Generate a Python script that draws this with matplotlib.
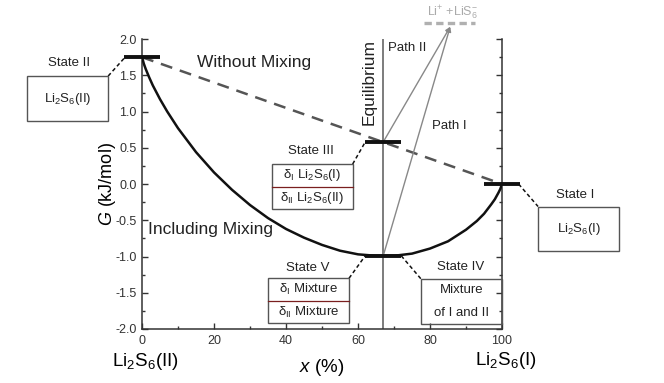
import matplotlib
matplotlib.use("Agg")
import matplotlib.pyplot as plt
import matplotlib.ticker as mticker
from matplotlib.patches import Rectangle

plt.rcParams["font.family"] = "Liberation Sans"
plt.rcParams["mathtext.fontset"] = "custom"
plt.rcParams["mathtext.rm"] = "Liberation Sans"
plt.rcParams["mathtext.it"] = "Liberation Sans:italic"
plt.rcParams["axes.unicode_minus"] = False

# ── data ─────────────────────────────────────────────────────────────────────
x_pct = [0, 0.5, 1, 2, 3, 5, 7, 10, 15, 20, 25, 30, 35, 40, 45, 50, 55, 60,
         65, 67, 70, 75, 80, 85, 90, 93, 95, 97, 98, 99, 99.5, 100]
g_mix = [1.75, 1.66, 1.59, 1.47, 1.36, 1.17, 1.00, 0.77, 0.44, 0.16, -0.08,
         -0.29, -0.47, -0.62, -0.74, -0.84, -0.92, -0.97, -0.99, -0.99, -0.99,
         -0.96, -0.89, -0.79, -0.63, -0.51, -0.41, -0.28, -0.21, -0.12, -0.07, 0.0]

x_ends = [0, 100]
g_nomix = [1.75, 0.0]

x_eq = 67
state_x = [0, 67, 67, 100]
state_g = [1.75, 0.58, -0.99, 0.0]

ion_x = [78.3, 92.5]
ion_g = 2.22
arrow_tip = (85.6, 2.17)

# ── figure ────────────────────────────────────────────────────────────────────
fig = plt.figure(figsize=(6.64, 3.83), dpi=100)
ax = fig.add_axes([0.2139, 0.141, 0.5422, 0.757])
ax.set_xlim(0, 100)
ax.set_ylim(-2, 2)

ax.axvline(x_eq, color="#666666", lw=1.2, zorder=1)
ax.plot(x_ends, g_nomix, color="#555555", lw=1.8, dashes=(4.8, 3.2), zorder=2)
ax.plot(x_pct, g_mix, color="#111111", lw=1.8, zorder=3)

for sx, sg in zip(state_x, state_g):
    ax.plot([sx - 5, sx + 5], [sg, sg], color="#111111", lw=2.8,
            solid_capstyle="butt", clip_on=False, zorder=4)

# paths to the dissociated state
for sg in state_g[1:3]:
    ax.annotate("", xy=arrow_tip, xytext=(x_eq, sg), annotation_clip=False,
                arrowprops=dict(arrowstyle="-|>", color="#888888", lw=1.0,
                                mutation_scale=7, shrinkA=0, shrinkB=0))
ax.plot(ion_x, [ion_g, ion_g], color="#b0b0b0", lw=2.4, dashes=(2.2, 1.3),
        clip_on=False)
ax.text(86.1, 2.37, r"Li$^{+}$ +LiS$_{6}^{-}$", color="#aaaaaa", fontsize=9,
        ha="center", va="center", clip_on=False)


def state_box(x0, y0, lines, title, tx, ty, divider=False):
    w, h = 22.5, 0.62
    ax.add_patch(Rectangle((x0, y0), w, h, fill=False, ec="#555555", lw=1.0,
                           clip_on=False, zorder=5))
    if divider:
        ax.plot([x0, x0 + w], [y0 + h / 2] * 2, color="#7a1f1f", lw=0.9,
                clip_on=False, zorder=5)
    if len(lines) == 1:
        ys = [y0 + h / 2]
    else:
        ys = [y0 + 3 * h / 4, y0 + h / 4]
    for s, yy in zip(lines, ys):
        ax.text(x0 + w / 2, yy, s, fontsize=9.5, ha="center", va="center",
                color="#222222")
    ax.text(tx, ty, title, fontsize=9.5, ha="center", va="center",
            color="#222222")


def connector(p, q):
    ax.plot([p[0], q[0]], [p[1], q[1]], color="#111111", lw=1.1,
            ls=(0, (2.5, 1.8)), clip_on=False)


state_box(-31.9, 0.87, [r"Li$_2$S$_6$(II)"], "State II", -20.3, 1.67)
connector((-9.4, 1.49), (-4.7, 1.75))
state_box(110.0, -0.93, [r"Li$_2$S$_6$(I)"], "State I", 120.3, -0.15)
connector((104.6, 0.0), (110.0, -0.31))
state_box(36.0, -0.345, [r"δ$_{\rm I}$ Li$_2$S$_6$(I)", r"δ$_{\rm II}$ Li$_2$S$_6$(II)"],
          "State III", 46.9, 0.455, divider=True)
connector((58.5, 0.275), (62.0, 0.58))
state_box(35.0, -1.92, [r"δ$_{\rm I}$ Mixture", r"δ$_{\rm II}$ Mixture"],
          "State V", 46.1, -1.16, divider=True)
connector((57.5, -1.30), (62.0, -0.99))
state_box(77.5, -1.93, ["Mixture", "of I and II"], "State IV", 88.6, -1.145)
connector((72.0, -0.99), (77.5, -1.31))

ax.text(15.3, 1.68, "Without Mixing", fontsize=12.5, ha="left", va="center",
        color="#222222")
ax.text(1.7, -0.63, "Including Mixing", fontsize=12.5, ha="left", va="center",
        color="#222222")
ax.text(63.0, 1.41, "Equilibrium", fontsize=12.5, rotation=90, ha="center",
        va="center", color="#222222")
ax.text(68.3, 1.88, "Path II", fontsize=9.5, ha="left", va="center",
        color="#222222")
ax.text(80.6, 0.80, "Path I", fontsize=9.5, ha="left", va="center",
        color="#222222")

# axis labels
ax.text(-9.7, 0.0, r"$G$ (kJ/mol)", fontsize=13, rotation=90, ha="center",
        va="center", clip_on=False)
ax.text(50, -2.53, r"$x$ (%)", fontsize=13.5, ha="center", va="center",
        clip_on=False)
ax.text(0.8, -2.45, r"Li$_2$S$_6$(II)", fontsize=13.5, ha="center", va="center",
        clip_on=False)
ax.text(101.1, -2.44, r"Li$_2$S$_6$(I)", fontsize=13.5, ha="center", va="center",
        clip_on=False)

# spines & ticks
ax.spines["top"].set_visible(False)
for side in ("left", "bottom", "right"):
    ax.spines[side].set_color("#333333")
    ax.spines[side].set_linewidth(1.1)
ax.xaxis.set_major_locator(mticker.MultipleLocator(20))
ax.xaxis.set_minor_locator(mticker.MultipleLocator(10))
ax.yaxis.set_major_locator(mticker.MultipleLocator(0.5))
ax.yaxis.set_minor_locator(mticker.MultipleLocator(0.25))
ax.yaxis.set_major_formatter(mticker.FormatStrFormatter("%.1f"))
ax.tick_params(which="both", direction="in", right=True, top=False,
               labelright=False, color="#333333", labelcolor="#333333",
               labelsize=9, width=1.0)
ax.tick_params(which="major", length=4, pad=4)
ax.tick_params(which="minor", length=2.2)

plt.savefig("out.png", dpi=100)
